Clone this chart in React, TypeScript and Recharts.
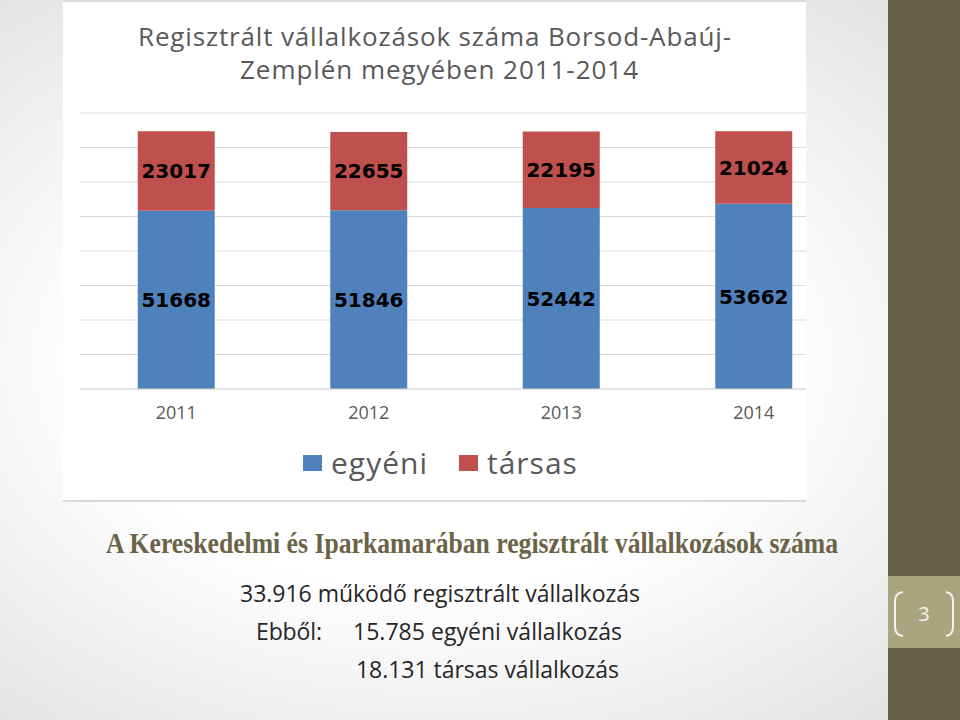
import { Bar, BarChart, CartesianGrid, LabelList, Legend, XAxis, YAxis } from "recharts";

const YEARS = ["2011", "2012", "2013", "2014"];
const EGYENI = [51668, 51846, 52442, 53662];
const TARSAS = [23017, 22655, 22195, 21024];
const Y_TICKS = [0, 10000, 20000, 30000, 40000, 50000, 60000, 70000, 80000];

const BLUE = "#4f81bd";
const RED = "#c0504d";
const GRID = "#d9d9d9";
const MUTED = "#595959";
const OLIVE = "#675f46";
const SANS = '"Open Sans", "Noto Sans", sans-serif';

const data = YEARS.map((year, i) => ({ year, egyeni: EGYENI[i], tarsas: TARSAS[i] }));

function YearTick(props: any) {
  const { x, y, payload } = props;
  return (
    <text x={x} y={y} dy={30} textAnchor="middle" fontFamily={SANS} fontSize={18} fill={MUTED}>
      {payload.value}
    </text>
  );
}

function LegendContent(props: any) {
  const items = (props.payload ?? []) as { value: string; color: string }[];
  return (
    <div style={{ display: "flex", alignItems: "center", height: 30 }}>
      {items.map((it, i) => (
        <div
          key={it.value}
          style={{ display: "flex", alignItems: "center", marginRight: i === 0 ? 31 : 0 }}
        >
          <span style={{ width: 19, height: 16, background: it.color, marginRight: 9 }} />
          <span
            style={{
              fontFamily: SANS,
              fontSize: 30,
              letterSpacing: 1,
              lineHeight: "30px",
              color: MUTED,
            }}
          >
            {it.value}
          </span>
        </div>
      ))}
    </div>
  );
}

export default function App() {
  return (
    <div
      style={{
        position: "absolute",
        left: 0,
        top: 0,
        width: 960,
        height: 720,
        overflow: "hidden",
        background: "radial-gradient(ellipse at 45% 50%, #ffffff 45%, #d6d6d6 115%)",
      }}
    >
      {/* chart picture, cropped on the right like on the slide */}
      <div
        style={{
          position: "absolute",
          left: 63,
          top: 0,
          width: 743,
          height: 502,
          overflow: "hidden",
          background: "#fff",
          borderTop: "2px solid #d9d9d9",
          borderBottom: "2px solid #d9d9d9",
          boxSizing: "border-box",
        }}
      >
        <div style={{ position: "absolute", left: 0, top: -2 }}>
          <BarChart
            width={800}
            height={502}
            data={data}
            margin={{ top: 113, right: 13, bottom: 83, left: 17 }}
            barCategoryGap="30%"
          >
            <CartesianGrid stroke={GRID} vertical={false} />
            <YAxis hide domain={[0, 80000]} ticks={Y_TICKS} />
            <XAxis
              dataKey="year"
              axisLine={{ stroke: GRID }}
              tickLine={false}
              tickSize={0}
              tickMargin={0}
              tick={<YearTick />}
            />
            <Legend
              layout="horizontal"
              verticalAlign="middle"
              align="center"
              wrapperStyle={{ left: 240, top: 448, width: 380 }}
              content={<LegendContent />}
            />
            <Bar dataKey="egyeni" name="egyéni" stackId="a" fill={BLUE} isAnimationActive={false}>
              <LabelList
                dataKey="egyeni"
                position="center"
                fill="#000"
                fontFamily='"DejaVu Sans", sans-serif'
                fontWeight={700}
                fontSize={20}
              />
            </Bar>
            <Bar dataKey="tarsas" name="társas" stackId="a" fill={RED} isAnimationActive={false}>
              <LabelList
                dataKey="tarsas"
                position="center"
                fill="#000"
                fontFamily='"DejaVu Sans", sans-serif'
                fontWeight={700}
                fontSize={20}
              />
            </Bar>
          </BarChart>
        </div>
      </div>

      {/* right band with the slide number */}
      <div style={{ position: "absolute", left: 888, top: 0, width: 72, height: 720, background: OLIVE }} />
      <div style={{ position: "absolute", left: 888, top: 576, width: 72, height: 72, background: "#a9a57f" }} />

      <svg
        width={960}
        height={720}
        style={{ position: "absolute", left: 0, top: 0, pointerEvents: "none" }}
      >
        <g fontFamily={SANS} fill={MUTED} fontSize={26} textAnchor="middle">
          <text x={434.5} y={46} textLength={593}>
            Regisztrált vállalkozások száma Borsod-Abaúj-
          </text>
          <text x={439} y={79} textLength={398}>
            Zemplén megyében 2011-2014
          </text>
        </g>

        <text
          x={106}
          y={553}
          fontFamily='"Liberation Serif", serif'
          fontWeight={700}
          fontSize={30}
          fill="#6b6347"
          textLength={732}
          lengthAdjust="spacingAndGlyphs"
        >
          A Kereskedelmi és Iparkamarában regisztrált vállalkozások száma
        </text>

        <g fontFamily={SANS} fontSize={23} fill="#262626">
          <text x={240} y={602} textLength={400}>
            33.916 működő regisztrált vállalkozás
          </text>
          <text x={256} y={640} textLength={66}>
            Ebből:
          </text>
          <text x={353} y={640} textLength={269}>
            15.785 egyéni vállalkozás
          </text>
          <text x={356} y={678} textLength={263}>
            18.131 társas vállalkozás
          </text>
        </g>

        <g stroke="#f4f4f0" strokeWidth={2} fill="none">
          <path d="M 903 592 Q 895 593 895 601 L 895 627 Q 895 635 903 636" />
          <path d="M 946 592 Q 953 593 953 601 L 953 627 Q 953 635 946 636" />
        </g>
        <text x={924} y={621} textAnchor="middle" fontFamily={SANS} fontSize={20} fill="#f4f4f0">
          3
        </text>
      </svg>
    </div>
  );
}
